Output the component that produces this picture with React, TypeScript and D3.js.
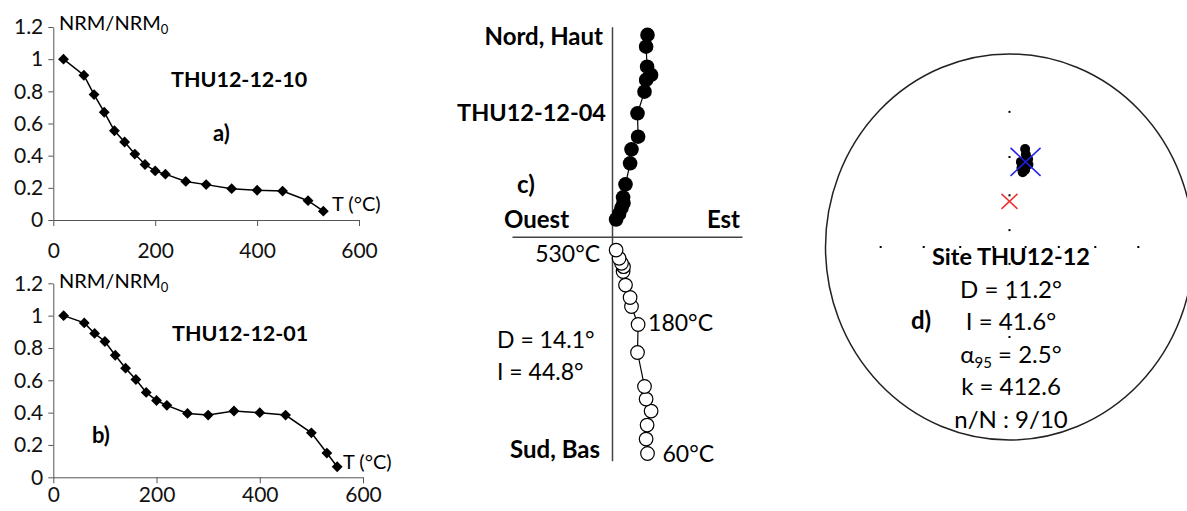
import React, { useEffect, useRef } from 'react';
import * as d3 from 'd3';

// a) THU12-12-10 : normalised NRM vs temperature
const tempsA = [20, 60, 80, 100, 120, 140, 160, 180, 200, 220, 260, 300, 350, 400, 450, 500, 530];
const nrmA = [1.0, 0.9, 0.78, 0.67, 0.555, 0.485, 0.41, 0.345, 0.305, 0.285, 0.24, 0.22, 0.195, 0.185, 0.18, 0.12, 0.055];

// b) THU12-12-01
const tempsB = [20, 60, 80, 100, 120, 140, 160, 180, 200, 220, 260, 300, 350, 400, 450, 500, 530, 550];
const nrmB = [1.0, 0.955, 0.89, 0.84, 0.755, 0.675, 0.605, 0.525, 0.475, 0.445, 0.395, 0.385, 0.41, 0.4, 0.385, 0.275, 0.15, 0.065];

const xTicks = [0, 200, 400, 600];
const yTicks = [0, 0.2, 0.4, 0.6, 0.8, 1, 1.2];

// c) Zijderveld THU12-12-04, steps 60°C -> 530°C (arbitrary units)
const zijEast = [1.75, 1.68, 1.73, 1.93, 1.68, 1.6, 1.25, 1.28, 0.95, 0.88, 0.65, 0.53, 0.55, 0.45, 0.33, 0.18];
const zijNorth = [10.12, 9.53, 8.53, 8.12, 7.87, 7.28, 6.2, 5.03, 4.4, 3.7, 2.65, 2.0, 1.72, 1.47, 1.17, 0.89];
const zijDown = [10.81, 10.09, 9.39, 8.69, 8.09, 7.46, 5.76, 4.36, 3.46, 3.01, 2.39, 1.71, 1.47, 1.3, 1.05, 0.64];
const stepLabelIdx = [0, 7, 15];
const stepLabelText = ['60°C', '180°C', '530°C'];

// d) site mean, stereographic projection
const specDec = [9.5, 10.5, 12.5, 8.0, 10.0, 13.5, 9.0, 10.5, 12.0];
const specInc = [35.5, 38.0, 40.0, 42.0, 43.0, 42.5, 45.0, 47.0, 45.5];
const siteDec = 11.2;
const siteInc = 41.6;
const gadDec = 0;
const gadInc = 63.4;
const gridInc = [80, 60, 40, 20];
const gridDec = [0, 90, 180, 270];

const FONT = 'Lato, "Open Sans", sans-serif';

const App = () => {
  const svgRef = useRef<SVGSVGElement>(null);

  useEffect(() => {
    const svg = d3.select(svgRef.current);
    svg.selectAll('*').remove();

    // ---------- a) and b) demagnetisation curves ----------
    const decay = (temps: number[], vals: number[], x: any, y: any, labelPad: number) => {
      const g = svg.append('g');
      const pts = temps.map((t, i) => [x(t), y(vals[i])] as [number, number]);

      g.append('g')
        .attr('transform', `translate(0,${y(0)})`)
        .call(d3.axisBottom(x).tickValues(xTicks).tickSize(6).tickPadding(labelPad).tickSizeOuter(0))
        .call(s => s.selectAll('text').attr('font-size', 21).attr('font-family', FONT).attr('fill', '#111'))
        .call(s => s.selectAll('line,path').attr('stroke', '#555'));

      g.append('g')
        .attr('transform', `translate(${x(0)},0)`)
        .call(d3.axisLeft(y).tickValues(yTicks).tickSize(5).tickPadding(5).tickSizeOuter(0)
          .tickFormat(d => String(d)))
        .call(s => s.selectAll('text').attr('font-size', 21).attr('font-family', FONT).attr('fill', '#111'))
        .call(s => s.selectAll('line,path').attr('stroke', '#555'));

      g.append('path')
        .attr('d', d3.line()(pts))
        .attr('fill', 'none')
        .attr('stroke', '#000')
        .attr('stroke-width', 1.5);

      g.append('g')
        .selectAll('path')
        .data(pts)
        .join('path')
        .attr('d', d3.symbol(d3.symbolDiamond2, 75)())
        .attr('transform', d => `translate(${d[0]},${d[1]})`)
        .attr('fill', '#000');
      return g;
    };

    const xA = d3.scaleLinear([0, 600], [53.3, 359]);
    const yA = d3.scaleLinear([0, 1.2], [220, 27]);
    const xB = d3.scaleLinear([0, 600], [53.3, 363]);
    const yB = d3.scaleLinear([0, 1.2], [477.3, 283.3]);
    decay(tempsA, nrmA, xA, yA, 17);
    decay(tempsB, nrmB, xB, yB, 4);

    const txt = (x: number, y: number, s: string, size: number, bold = false, anchor = 'start') =>
      svg.append('text')
        .attr('x', x).attr('y', y)
        .attr('font-family', FONT)
        .attr('font-size', size)
        .attr('font-weight', bold ? 'bold' : 'normal')
        .attr('text-anchor', anchor)
        .attr('fill', '#000')
        .text(s);

    const nrmLabel = (x: number, y: number) => {
      const t = txt(x, y, 'NRM/NRM', 20);
      t.append('tspan').attr('dy', 4).attr('font-size', 13).text('0');
    };
    nrmLabel(59, 30);
    nrmLabel(59, 288);
    txt(171, 87, 'THU12-12-10', 21.5, true);
    txt(213, 141, 'a)', 22, true);
    txt(332, 211, 'T (°C)', 20);
    txt(172, 341, 'THU12-12-01', 21.5, true);
    txt(92, 443, 'b)', 22, true);
    txt(343, 469, 'T (°C)', 20);

    // ---------- c) Zijderveld ----------
    const zx = d3.scaleLinear([-5, 6.5], [512.5, 742.5]);
    const zy = d3.scaleLinear([-11.2, 10.5], [461.3, 27.3]);
    const axes = svg.append('g').attr('stroke', '#444').attr('stroke-width', 1.5);
    axes.append('line').attr('x1', zx(-5)).attr('x2', zx(6.5)).attr('y1', zy(0)).attr('y2', zy(0));
    axes.append('line').attr('x1', zx(0)).attr('x2', zx(0)).attr('y1', zy(10.5)).attr('y2', zy(-11.2));

    const horiz = zijEast.map((e, i) => [zx(e), zy(zijNorth[i])] as [number, number]);
    const vert = zijEast.map((e, i) => [zx(e), zy(-zijDown[i])] as [number, number]);
    [horiz, vert].forEach(p =>
      svg.append('path').attr('d', d3.line()(p)).attr('fill', 'none').attr('stroke', '#000').attr('stroke-width', 1.2));
    svg.append('g').selectAll('circle').data(horiz).join('circle')
      .attr('cx', d => d[0]).attr('cy', d => d[1]).attr('r', 7.3).attr('fill', '#000');
    svg.append('g').selectAll('circle').data(vert).join('circle')
      .attr('cx', d => d[0]).attr('cy', d => d[1]).attr('r', 6.8)
      .attr('fill', '#fff').attr('stroke', '#000').attr('stroke-width', 1.2);

    txt(603, 45, 'Nord, Haut', 24, true, 'end');
    txt(606, 121, 'THU12-12-04', 23.5, true, 'end');
    txt(517, 193, 'c)', 24, true);
    txt(504, 228, 'Ouest', 24, true);
    txt(740, 228, 'Est', 24, true, 'end');
    txt(600, 458, 'Sud, Bas', 24, true, 'end');
    // temperature step labels
    const labelOffsets: [number, number, string][] = [[15, 8, 'start'], [10, 6, 'start'], [-16, 12, 'end']];
    stepLabelIdx.forEach((idx, k) => {
      const [dx, dy, anchor] = labelOffsets[k];
      txt(vert[idx][0] + dx, vert[idx][1] + dy, stepLabelText[k], 23, false, anchor);
    });
    txt(497, 348, 'D = 14.1°', 23);
    txt(497, 380, 'I = 44.8°', 23);

    // ---------- d) stereonet ----------
    const cx = 1009.5, cy = 247, rx = 184, ry = 193;
    const sx = d3.scaleLinear([-1, 1], [cx - rx, cx + rx]);
    const sy = d3.scaleLinear([-1, 1], [cy + ry, cy - ry]);
    const rad = Math.PI / 180;
    const proj = (dec: number, inc: number): [number, number] => {
      const r = Math.tan(((90 - inc) / 2) * rad);
      return [sx(r * Math.sin(dec * rad)), sy(r * Math.cos(dec * rad))];
    };

    svg.append('ellipse').attr('cx', cx).attr('cy', cy).attr('rx', rx).attr('ry', ry)
      .attr('fill', 'none').attr('stroke', '#222').attr('stroke-width', 1.5);

    const grid = gridDec.flatMap(d => gridInc.map(i => proj(d, i)));
    svg.append('g').selectAll('rect').data(grid).join('rect')
      .attr('x', d => d[0] - 1).attr('y', d => d[1] - 1).attr('width', 2).attr('height', 2).attr('fill', '#000');

    const mean = proj(siteDec, siteInc);
    svg.append('ellipse').attr('cx', mean[0]).attr('cy', mean[1]).attr('rx', 5.5).attr('ry', 5.5)
      .attr('fill', 'none').attr('stroke', '#e02020').attr('stroke-width', 1.5);
    svg.append('g').selectAll('circle').data(specDec.map((d, i) => proj(d, specInc[i]))).join('circle')
      .attr('cx', d => d[0]).attr('cy', d => d[1]).attr('r', 5).attr('fill', '#000');

    const cross = (p: [number, number], hx: number, hy: number, color: string) => {
      const g = svg.append('g').attr('stroke', color).attr('stroke-width', 1.5);
      g.append('line').attr('x1', p[0] - hx).attr('y1', p[1] - hy).attr('x2', p[0] + hx).attr('y2', p[1] + hy);
      g.append('line').attr('x1', p[0] - hx).attr('y1', p[1] + hy).attr('x2', p[0] + hx).attr('y2', p[1] - hy);
    };
    cross(mean, 15, 14, '#2020e8');
    cross(proj(gadDec, gadInc), 8, 7.5, '#f03030');

    txt(1011, 265, 'Site THU12-12', 23.5, true, 'middle');
    txt(1011, 298, 'D = 11.2°', 24, false, 'middle');
    txt(911, 329, 'd)', 24, true);
    txt(1011, 330, 'I = 41.6°', 24, false, 'middle');
    const a95 = txt(1011, 363, 'α', 24, false, 'middle');
    a95.append('tspan').attr('font-size', 15).attr('dy', 5).text('95');
    a95.append('tspan').attr('dy', -5).text(' = 2.5°');
    txt(1011, 395, 'k = 412.6', 24, false, 'middle');
    txt(1011, 428, 'n/N : 9/10', 24, false, 'middle');
  }, []);

  return (
    <svg ref={svgRef} width={1187} height={511}
      style={{ position: 'absolute', left: 0, top: 0, background: '#fff' }} />
  );
};

export default App;
